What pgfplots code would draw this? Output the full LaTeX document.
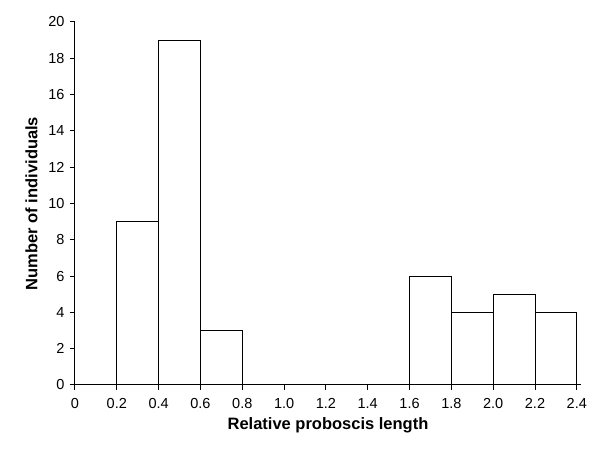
\documentclass[border=0pt]{standalone}
\usepackage{fontspec}
\setmainfont{Liberation Sans}
\usepackage{pgfplots}
\pgfplotsset{compat=1.18}

\begin{document}
\begin{tikzpicture}
\useasboundingbox (-75pt,-67pt) rectangle (525pt,385pt);
\begin{axis}[
	at={(0pt,0pt)}, anchor=origin,
	scale only axis,
	width=506pt, height=363pt,
	xmin=0, xmax=2.42,
	ymin=0, ymax=20,
	axis x line*=bottom,
	axis y line*=left,
	axis line style={black, line width=1pt, -},
	tick align=outside,
	major tick length=5pt,
	tick style={black, line width=1pt},
	xtick={0,0.2,...,2.4},
	xticklabels={0,0.2,0.4,0.6,0.8,1.0,1.2,1.4,1.6,1.8,2.0,2.2,2.4},
	ytick={0,2,...,20},
	/pgf/number format/assume math mode=true,
	ticklabel style={font=\fontsize{14.5}{16}\selectfont},
	xticklabel style={yshift=-5pt},
	yticklabel style={xshift=-2pt},
	xlabel={Relative proboscis length},
	ylabel={Number of individuals},
	label style={font=\fontsize{16.5}{18}\selectfont\bfseries},
	xlabel style={yshift=-2pt},
	ylabel style={yshift=4pt},
]
\addplot[ybar interval, fill=white, draw=black, line width=1pt] coordinates {
(0.2,9) (0.4,19) (0.6,3) (0.8,3)
};
\addplot[ybar interval, fill=white, draw=black, line width=1pt] coordinates {
(1.6,6) (1.8,4) (2.0,5) (2.2,4) (2.4,4)
};
\end{axis}
\end{tikzpicture}
\end{document}
